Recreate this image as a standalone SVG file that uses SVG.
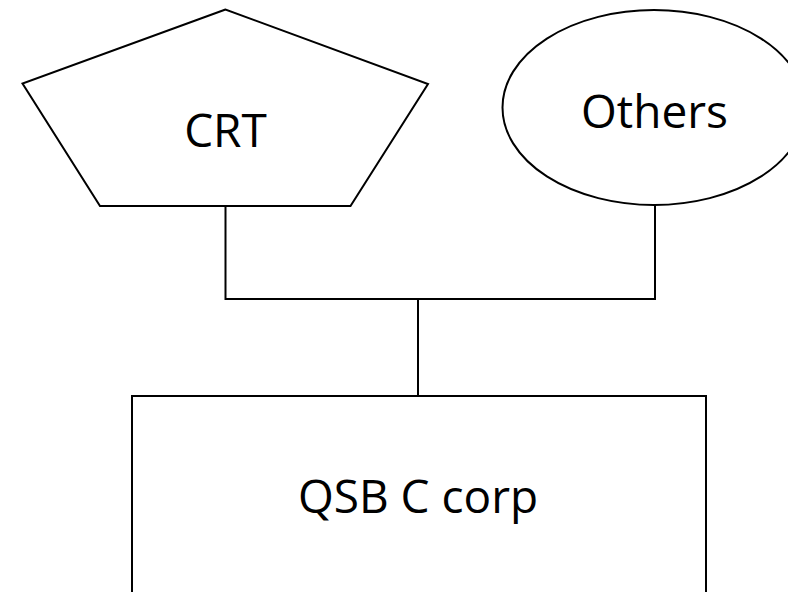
<svg xmlns="http://www.w3.org/2000/svg" width="788" height="592" viewBox="0 0 788 592">
<style>
.shape{fill:#fff;stroke:#000;stroke-width:2}
.conn{fill:none;stroke:#000;stroke-width:2}
.lbl{font-family:"Open Sans","Noto Sans",sans-serif;font-size:46px;fill:#000;text-anchor:middle}
</style>
<rect width="788" height="592" fill="#fff"/>
<g id="connectors">
<polyline class="conn" points="225.5,206 225.5,299 655,299 655,205"/>
<line class="conn" x1="418" y1="299" x2="418" y2="396"/>
</g>
<g id="crt">
<polygon class="shape" points="225.5,9.5 22.5,83.5 100,206 350.5,206 428,84"/>
<text class="lbl" x="225.5" y="147">CRT</text>
</g>
<g id="others">
<ellipse class="shape" cx="654" cy="107.5" rx="151.5" ry="97.5"/>
<text class="lbl" x="654.5" y="128">Others</text>
</g>
<g id="qsb">
<rect class="shape" x="132" y="396" width="574" height="210"/>
<text class="lbl" x="418" y="513">QSB C corp</text>
</g>
</svg>
